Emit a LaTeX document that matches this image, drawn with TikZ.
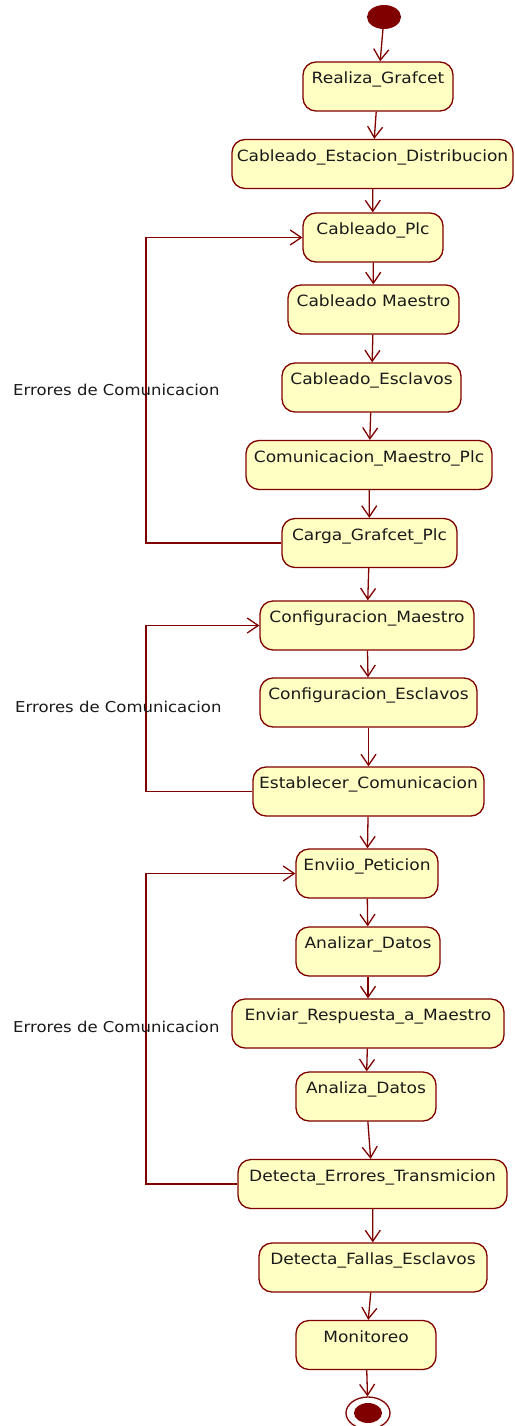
\documentclass[tikz,border=0pt]{standalone}
\usepackage{fontspec}
\setmainfont{DejaVu Sans}[FakeStretch=1.1]
\usetikzlibrary{arrows.meta,shapes.geometric}
\definecolor{dred}{HTML}{800000}
\definecolor{actfill}{HTML}{FFFFC4}
\definecolor{ink}{HTML}{1A1A1A}
\tikzset{
  act/.style={rectangle, rounded corners=13pt, draw=dred, fill=actfill,
    line width=1.3pt, inner xsep=0pt, inner ysep=5pt,
    text height=16.5pt, text depth=22.5pt, text=ink,
    font=\fontsize{15.5}{18}\selectfont},
  flow/.style={draw=dred, line width=1.3pt,
    -{Straight Barb[length=11pt,width=15pt,line width=1.3pt]}},
  errlabel/.style={anchor=west, inner sep=0pt, text=ink,
    font=\fontsize{15}{18}\selectfont}
}
\begin{document}
\begin{tikzpicture}[x=1pt,y=-1pt]
\useasboundingbox (0,0) rectangle (514,1426);

% initial and final states
\node[ellipse, fill=dred, minimum width=34pt, minimum height=24pt, inner sep=0pt] (start) at (384,17) {};
\node[ellipse, draw=dred, line width=1.3pt, fill=white, minimum width=44pt, minimum height=32pt, inner sep=0pt] (fin) at (368,1413) {};
\node[ellipse, fill=dred, minimum width=28pt, minimum height=20pt, inner sep=0pt] (finin) at (368,1413) {};

% activities
\node[act, minimum width=150pt] (a1) at (378,86.5) {Realiza\_Grafcet};
\node[act, minimum width=281pt] (a2) at (372.5,164) {Cableado\_Estacion\_Distribucion};
\node[act, minimum width=140pt] (a3) at (373,237.5) {Cableado\_Plc};
\node[act, minimum width=171pt] (a4) at (373.5,309.5) {Cableado Maestro};
\node[act, minimum width=179pt] (a5) at (371.5,387.5) {Cableado\_Esclavos};
\node[act, minimum width=246pt] (a6) at (369,465) {Comunicacion\_Maestro\_Plc};
\node[act, minimum width=175pt] (a7) at (369.5,543) {Carga\_Grafcet\_Plc};
\node[act, minimum width=214pt] (a8) at (367,625.5) {Configuracion\_Maestro};
\node[act, minimum width=217pt] (a9) at (368.5,702.5) {Configuracion\_Esclavos};
\node[act, minimum width=231pt] (a10) at (368.5,791.5) {Establecer\_Comunicacion};
\node[act, minimum width=142pt] (a11) at (367,873.5) {Enviio\_Peticion};
\node[act, minimum width=144pt] (a12) at (368,951.5) {Analizar\_Datos};
\node[act, minimum width=272pt] (a13) at (368,1023.5) {Enviar\_Respuesta\_a\_Maestro};
\node[act, minimum width=140pt] (a14) at (366,1096.5) {Analiza\_Datos};
\node[act, minimum width=269pt] (a15) at (372.5,1184) {Detecta\_Errores\_Transmicion};
\node[act, minimum width=228pt] (a16) at (373,1267.5) {Detecta\_Fallas\_Esclavos};
\node[act, minimum width=140pt] (a17) at (366,1345) {Monitoreo};

% main sequence
\draw[flow] (start) -- (a1);
\foreach \p/\n in {a1/a2,a2/a3,a3/a4,a4/a5,a5/a6,a6/a7,a7/a8,a8/a9,a9/a10,
                   a10/a11,a11/a12,a12/a13,a13/a14,a14/a15,a15/a16,a16/a17}
  \draw[flow] (\p) -- (\n);
\draw[flow] (a17) -- (fin);

% retry loops on communication errors
\coordinate (lx) at (146,0);
\draw[flow] (a7.west) -- (a7.west -| lx) |- (a3.west);
\draw[flow] (a10.west) -- (a10.west -| lx) |- (a8.west);
\draw[flow] (a15.west) -- (a15.west -| lx) |- (a11.west);

\node[errlabel] (e1) at (13,390) {Errores de Comunicacion};
\node[errlabel] (e2) at (15,707) {Errores de Comunicacion};
\node[errlabel] (e3) at (13,1027) {Errores de Comunicacion};
\end{tikzpicture}
\end{document}
